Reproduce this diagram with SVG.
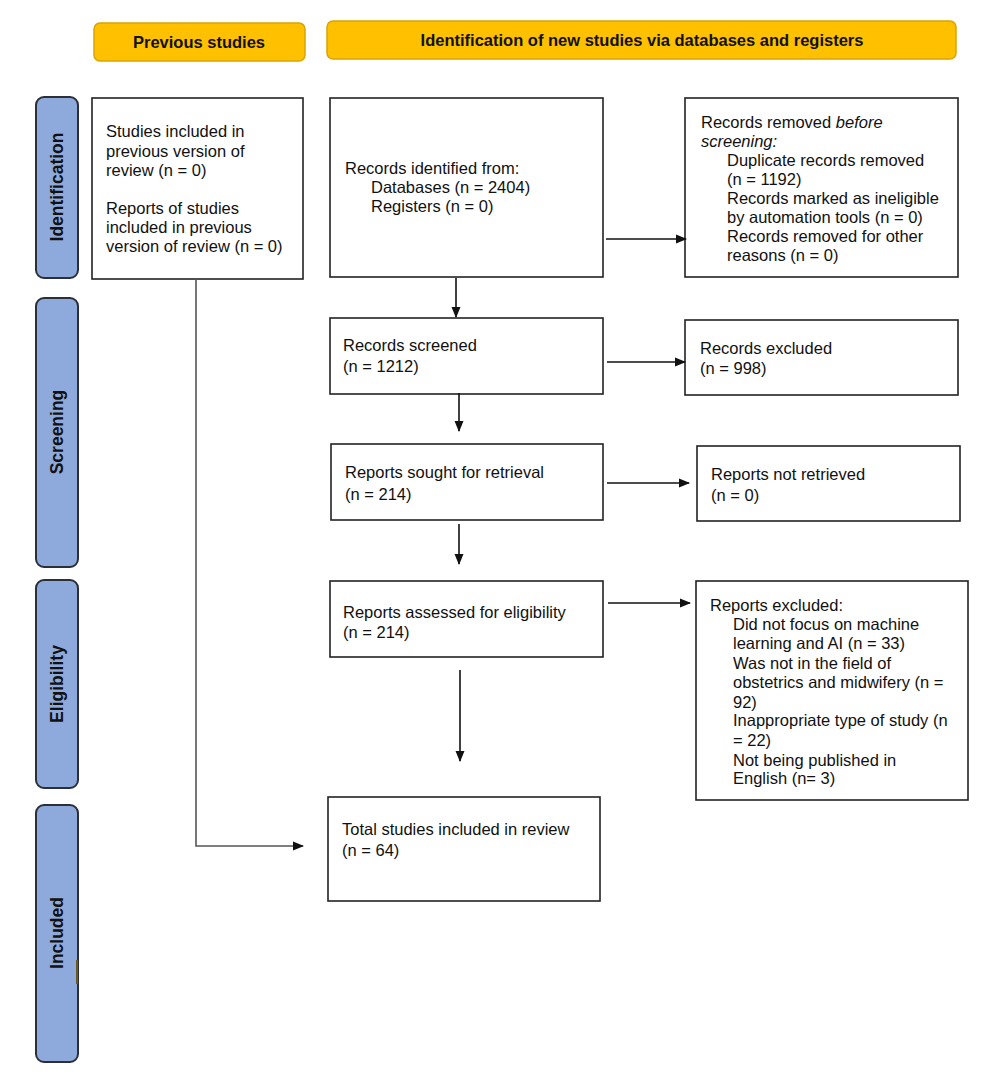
<svg xmlns="http://www.w3.org/2000/svg" width="986" height="1080" viewBox="0 0 986 1080">
<style>
.hdr{fill:#FFC000;stroke:#D9A400;stroke-width:1.5}
.side{fill:#8EA9DB;stroke:#2B2F36;stroke-width:2}
.box{fill:#fff;stroke:#222;stroke-width:1.6}
.t{font-family:"Liberation Sans",Arial,sans-serif;font-size:16.5px;fill:#111}
.b{font-family:"Liberation Sans",Arial,sans-serif;font-size:16.5px;font-weight:bold;fill:#111}
.s{font-family:"Liberation Sans",Arial,sans-serif;font-size:17.5px;font-weight:bold;fill:#111}
.con{fill:none;stroke:#111;stroke-width:1.6}
.gray{fill:none;stroke:#555;stroke-width:1.6}
</style>
<defs>
<marker id="ah" markerWidth="11" markerHeight="11" refX="10" refY="5.5" orient="auto" markerUnits="userSpaceOnUse">
<path d="M0,1 L11,5.5 L0,10 Z" fill="#111"/>
</marker>
</defs>
<rect width="986" height="1080" fill="#fff"/>

<g id="hdr-previous">
<rect class="hdr" x="94" y="23" width="211" height="38" rx="6"/>
<text class="b" x="199" y="48" text-anchor="middle">Previous studies</text>
</g>
<g id="hdr-new">
<rect class="hdr" x="327" y="21" width="629" height="38" rx="6"/>
<text class="b" x="642" y="46" text-anchor="middle">Identification of new studies via databases and registers</text>
</g>

<g id="side-identification">
<rect class="side" x="36" y="97" width="42" height="181" rx="8"/>
<text class="s" transform="translate(63,187) rotate(-90)" text-anchor="middle">Identification</text>
</g>
<g id="side-screening">
<rect class="side" x="36" y="298" width="42" height="269" rx="8"/>
<text class="s" transform="translate(63,432) rotate(-90)" text-anchor="middle">Screening</text>
</g>
<g id="side-eligibility">
<rect class="side" x="36" y="580" width="42" height="208" rx="8"/>
<text class="s" transform="translate(63,684) rotate(-90)" text-anchor="middle">Eligibility</text>
</g>
<g id="side-included">
<rect class="side" x="36" y="805" width="42" height="257" rx="8"/>
<text class="s" transform="translate(63,933) rotate(-90)" text-anchor="middle">Included</text>
<line x1="77" y1="960" x2="77" y2="984" stroke="#6B5A1E" stroke-width="2"/>
</g>

<g id="previous-box">
<rect class="box" x="92" y="98" width="211" height="181"/>
<text class="t" x="106" y="137">Studies included in</text>
<text class="t" x="106" y="157">previous version of</text>
<text class="t" x="106" y="176">review (n = 0)</text>
<text class="t" x="106" y="214">Reports of studies</text>
<text class="t" x="106" y="233">included in previous</text>
<text class="t" x="106" y="252">version of review (n = 0)</text>
</g>

<g id="records-identified">
<rect class="box" x="330" y="98" width="273" height="179"/>
<text class="t" x="345" y="174">Records identified from:</text>
<text class="t" x="371" y="193">Databases (n = 2404)</text>
<text class="t" x="371" y="212">Registers (n = 0)</text>
</g>

<g id="records-removed">
<rect class="box" x="685" y="98" width="273" height="179"/>
<text class="t" x="701" y="128">Records removed <tspan font-style="italic">before</tspan></text>
<text class="t" x="701" y="147" font-style="italic">screening:</text>
<text class="t" x="727" y="166">Duplicate records removed</text>
<text class="t" x="727" y="185">(n = 1192)</text>
<text class="t" x="727" y="204">Records marked as ineligible</text>
<text class="t" x="727" y="223">by automation tools (n = 0)</text>
<text class="t" x="727" y="242">Records removed for other</text>
<text class="t" x="727" y="261">reasons (n = 0)</text>
</g>

<g id="records-screened">
<rect class="box" x="330" y="318" width="273" height="76"/>
<text class="t" x="343" y="351">Records screened</text>
<text class="t" x="343" y="372">(n = 1212)</text>
</g>

<g id="records-excluded">
<rect class="box" x="685" y="320" width="273" height="75"/>
<text class="t" x="700" y="354">Records excluded</text>
<text class="t" x="700" y="374">(n = 998)</text>
</g>

<g id="reports-sought">
<rect class="box" x="331" y="444" width="272" height="76"/>
<text class="t" x="345" y="478">Reports sought for retrieval</text>
<text class="t" x="345" y="500">(n = 214)</text>
</g>

<g id="reports-not-retrieved">
<rect class="box" x="697" y="446" width="263" height="75"/>
<text class="t" x="711" y="480">Reports not retrieved</text>
<text class="t" x="711" y="501">(n = 0)</text>
</g>

<g id="reports-assessed">
<rect class="box" x="330" y="581" width="273" height="76"/>
<text class="t" x="343" y="618">Reports assessed for eligibility</text>
<text class="t" x="343" y="638">(n = 214)</text>
</g>

<g id="reports-excluded">
<rect class="box" x="696" y="581" width="272" height="219"/>
<text class="t" x="710" y="611">Reports excluded:</text>
<text class="t" x="733" y="630">Did not focus on machine</text>
<text class="t" x="733" y="649">learning and AI (n = 33)</text>
<text class="t" x="733" y="669">Was not in the field of</text>
<text class="t" x="733" y="688">obstetrics and midwifery (n =</text>
<text class="t" x="733" y="708">92)</text>
<text class="t" x="733" y="726">Inappropriate type of study (n</text>
<text class="t" x="733" y="746">= 22)</text>
<text class="t" x="733" y="766">Not being published in</text>
<text class="t" x="733" y="784">English (n= 3)</text>
</g>

<g id="total-included">
<rect class="box" x="328" y="797" width="272" height="104"/>
<text class="t" x="342" y="835">Total studies included in review</text>
<text class="t" x="342" y="856">(n = 64)</text>
</g>

<g id="connectors">
<line class="con" x1="606" y1="239" x2="686" y2="239" marker-end="url(#ah)"/>
<line class="con" x1="456" y1="278" x2="456" y2="317" marker-end="url(#ah)"/>
<line class="con" x1="607" y1="362" x2="685" y2="362" marker-end="url(#ah)"/>
<line class="con" x1="459" y1="393" x2="459" y2="431" marker-end="url(#ah)"/>
<line class="con" x1="607" y1="483" x2="689" y2="483" marker-end="url(#ah)"/>
<line class="con" x1="459" y1="524" x2="459" y2="564" marker-end="url(#ah)"/>
<line class="con" x1="608" y1="603" x2="690" y2="603" marker-end="url(#ah)"/>
<line class="con" x1="460" y1="670" x2="460" y2="761" marker-end="url(#ah)"/>
<path class="gray" d="M196 279 V846 H303" marker-end="url(#ah)"/>
</g>
</svg>
